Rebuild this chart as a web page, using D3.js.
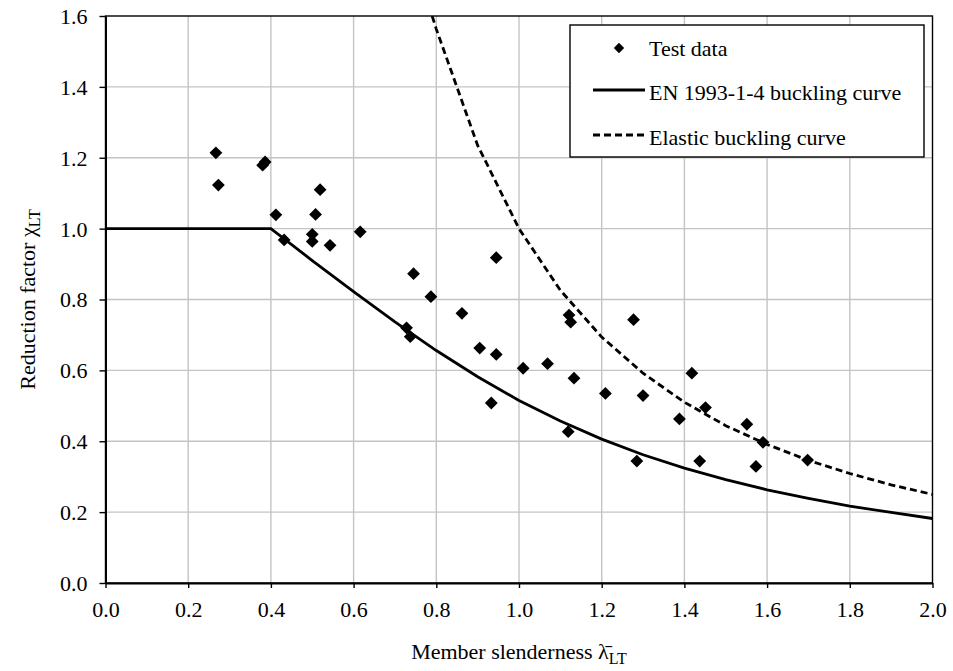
<!DOCTYPE html>
<html>
<head>
<meta charset="utf-8">
<script src="https://cdn.jsdelivr.net/npm/d3@7"></script>
<style>
  body { margin: 0; background: #fff; }
  svg text { font-family: "Liberation Serif", "Times New Roman", serif; fill: #000; }
</style>
</head>
<body>
<svg width="953" height="671"></svg>
<script>
// test data (slenderness, reduction factor)
var testLambda = [0.267, 0.273, 0.380, 0.386, 0.412, 0.519, 0.508, 0.432, 0.500, 0.500,
                  0.543, 0.616, 0.745, 0.787, 0.945, 0.862, 0.728, 0.737, 0.905, 0.945,
                  1.010, 1.069, 0.933, 1.121, 1.125, 1.133, 1.277, 1.209, 1.300, 1.119,
                  1.285, 1.418, 1.451, 1.388, 1.437, 1.551, 1.590, 1.573, 1.698];
var testChi    = [1.214, 1.123, 1.179, 1.188, 1.039, 1.110, 1.040, 0.968, 0.984, 0.964,
                  0.953, 0.991, 0.873, 0.808, 0.918, 0.761, 0.720, 0.695, 0.663, 0.645,
                  0.606, 0.619, 0.508, 0.756, 0.736, 0.578, 0.743, 0.535, 0.529, 0.427,
                  0.344, 0.592, 0.495, 0.463, 0.344, 0.448, 0.397, 0.329, 0.347];

// EN 1993-1-4 curve
var enLambda = [0.0, 0.4, 0.5, 0.6, 0.7, 0.8, 0.9, 1.0, 1.1, 1.2, 1.3, 1.4, 1.5, 1.6, 1.7, 1.8, 1.9, 2.0];
var enChi    = [1.0, 1.0, 0.910, 0.822, 0.737, 0.656, 0.582, 0.515, 0.457, 0.406, 0.362, 0.324, 0.292, 0.263, 0.239, 0.217, 0.199, 0.182];

// elastic buckling curve
var elLambda = [0.79, 0.8, 0.9, 1.0, 1.1, 1.2, 1.3, 1.4, 1.5, 1.6, 1.7, 1.8, 1.9, 2.0];
var elChi    = [1.60, 1.563, 1.235, 1.0, 0.826, 0.694, 0.592, 0.510, 0.444, 0.391, 0.346, 0.309, 0.277, 0.250];

var xTicks = [0, 0.2, 0.4, 0.6, 0.8, 1.0, 1.2, 1.4, 1.6, 1.8, 2.0];
var yTicks = [0, 0.2, 0.4, 0.6, 0.8, 1.0, 1.2, 1.4, 1.6];

var legendLabels = ["Test data", "EN 1993-1-4 buckling curve", "Elastic buckling curve"];

(function() {
var FONT = "'Liberation Serif', 'Times New Roman', serif";
var svg = d3.select("svg");
var pl = 105.5, pr = 932.5, pt = 16, pb = 583;

var x = d3.scaleLinear().domain([0, 2]).range([pl, pr]);
var y = d3.scaleLinear().domain([0, 1.6]).range([pb, pt]);

// grid
svg.append("g").selectAll("line")
    .data(xTicks.slice(1, -1))
    .enter().append("line")
    .attr("x1", function(d) { return x(d); })
    .attr("x2", function(d) { return x(d); })
    .attr("y1", pt).attr("y2", pb)
    .attr("stroke", "#c4c4c4").attr("stroke-width", 1.4);
svg.append("g").selectAll("line")
    .data(yTicks.slice(1, -1))
    .enter().append("line")
    .attr("y1", function(d) { return y(d); })
    .attr("y2", function(d) { return y(d); })
    .attr("x1", pl).attr("x2", pr)
    .attr("stroke", "#c4c4c4").attr("stroke-width", 1.4);

// frame
svg.append("rect")
    .attr("x", pl).attr("y", pt)
    .attr("width", pr - pl).attr("height", pb - pt)
    .attr("fill", "none").attr("stroke", "#000").attr("stroke-width", 1.4);

// axes
var xAxis = svg.append("g")
    .attr("transform", "translate(0," + pb + ")")
    .call(d3.axisBottom(x).tickValues(xTicks).tickFormat(d3.format(".1f")).tickSizeInner(5).tickSizeOuter(0));
var yAxis = svg.append("g")
    .attr("transform", "translate(" + pl + ",0)")
    .call(d3.axisLeft(y).tickValues(yTicks).tickFormat(d3.format(".1f")).tickSizeInner(6).tickSizeOuter(0));

[xAxis, yAxis].forEach(function(g) {
    g.attr("font-family", null).attr("font-size", null);
    g.select(".domain").attr("stroke", "#000").attr("stroke-width", 2);
    g.selectAll(".tick line").attr("stroke", "#000").attr("stroke-width", 1.4);
    g.selectAll(".tick text")
        .style("font-family", FONT)
        .style("font-size", "22px")
        .attr("fill", "#000");
});
xAxis.selectAll(".tick text").attr("y", 34).attr("dy", null);
yAxis.selectAll(".tick text").attr("x", -18).attr("dy", "0.34em");

// clip for curves
svg.append("clipPath").attr("id", "clip")
    .append("rect").attr("x", pl).attr("y", pt)
    .attr("width", pr - pl).attr("height", pb - pt);

var line = d3.line()
    .x(function(d) { return x(d[0]); })
    .y(function(d) { return y(d[1]); });

svg.append("path")
    .datum(d3.zip(enLambda, enChi))
    .attr("d", line)
    .attr("fill", "none").attr("stroke", "#000").attr("stroke-width", 2.8)
    .attr("clip-path", "url(#clip)");

svg.append("path")
    .datum(d3.zip(elLambda, elChi))
    .attr("d", line)
    .attr("fill", "none").attr("stroke", "#000").attr("stroke-width", 2.8)
    .attr("stroke-dasharray", "7,4")
    .attr("clip-path", "url(#clip)");

function diamond(r) {
    return "M0," + (-r) + "L" + r + ",0L0," + r + "L" + (-r) + ",0Z";
}

svg.append("g").selectAll("path")
    .data(d3.zip(testLambda, testChi))
    .enter().append("path")
    .attr("transform", function(d) { return "translate(" + x(d[0]) + "," + y(d[1]) + ")"; })
    .attr("d", diamond(6.4))
    .attr("fill", "#000");

// legend
var lg = svg.append("g");
lg.append("rect")
    .attr("x", 570).attr("y", 25).attr("width", 354).attr("height", 132)
    .attr("fill", "#fff").attr("stroke", "#000").attr("stroke-width", 1.4);

var rows = [48, 90, 135];
var baselines = [55.5, 99.5, 144.5];
lg.append("path")
    .attr("transform", "translate(619," + rows[0] + ")")
    .attr("d", diamond(5.2)).attr("fill", "#000");
lg.append("line")
    .attr("x1", 593).attr("x2", 645).attr("y1", rows[1]).attr("y2", rows[1])
    .attr("stroke", "#000").attr("stroke-width", 2.8);
lg.append("line")
    .attr("x1", 593).attr("x2", 647).attr("y1", rows[2]).attr("y2", rows[2])
    .attr("stroke", "#000").attr("stroke-width", 2.8).attr("stroke-dasharray", "7,4");

lg.selectAll("text")
    .data(legendLabels)
    .enter().append("text")
    .attr("x", 649)
    .attr("y", function(d, i) { return baselines[i]; })
    .style("font-family", FONT)
    .style("font-size", "22px")
    .text(function(d) { return d; });

// axis titles
var xt = svg.append("text")
    .attr("x", (pl + pr) / 2).attr("y", 659)
    .attr("text-anchor", "middle")
    .style("font-family", FONT)
    .style("font-size", "22px");
xt.append("tspan").text("Member slenderness ");
xt.append("tspan").text("\u03bb\u0304");
xt.append("tspan").attr("dy", 5).style("font-size", "16px").text("LT");

var yt = svg.append("text")
    .attr("transform", "translate(35," + ((pt + pb) / 2) + ") rotate(-90)")
    .attr("text-anchor", "middle")
    .style("font-family", FONT)
    .style("font-size", "22px");
yt.append("tspan").text("Reduction factor ");
yt.append("tspan").text("\u03c7");
yt.append("tspan").attr("dy", 5).style("font-size", "16px").text("LT");
})();
</script>
</body>
</html>
